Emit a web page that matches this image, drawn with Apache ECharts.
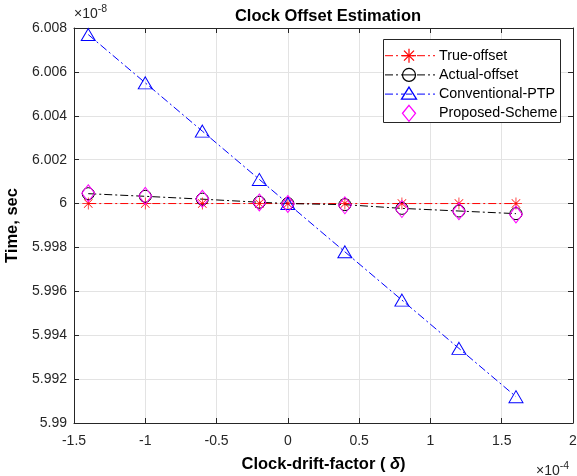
<!DOCTYPE html>
<html>
<head>
<meta charset="utf-8">
<script src="https://cdn.jsdelivr.net/npm/echarts@6/dist/echarts.min.js"></script>
<style>html,body{margin:0;padding:0;background:#fff}#c{width:577px;height:476px}</style>
</head>
<body>
<div id="c"></div>
<script>
var drift = [-1.4, -1, -0.6, -0.2, 0, 0.4, 0.8, 1.2, 1.6];
var trueOffset = [6, 6, 6, 6, 6, 6, 6, 6, 6];
var actualOffset = [6.00045, 6.00033, 6.0002, 6.00006, 6.0, 5.99995, 5.99978, 5.99966, 5.99954];
var conventionalPTP = [6.0077, 6.0055, 6.0033, 6.0011, 6.0, 5.9978, 5.9956, 5.9934, 5.9912];
var proposedScheme = [6.00047, 6.00035, 6.00022, 6.00005, 5.99998, 5.99992, 5.99975, 5.99965, 5.9995];
var seriesNames = ['True-offset', 'Actual-offset', 'Conventional-PTP', 'Proposed-Scheme'];

function pairs(ys){ return drift.map(function(x,i){ return [x, ys[i]]; }); }

var FONT = 'Liberation Sans, Arial, Helvetica, sans-serif';
var AX = '#262626';
var asterisk = 'path://M9.4,0L10.6,0L10.6,20L9.4,20Z M0,9.4L20,9.4L20,10.6L0,10.6Z M2.5,3.3L3.3,2.5L17.5,16.7L16.7,17.5Z M16.7,2.5L17.5,3.3L3.3,17.5L2.5,16.7Z';
var dashdot = [8, 3, 2, 3];
var colors = ['#ff0000', '#000000', '#0000ff', '#ff00ff'];

var chart = echarts.init(document.getElementById('c'), null, {renderer:'canvas'});
var baseX = {type:'value', min:-1.5, max:2, interval:0.5};
var baseY = {type:'value', min:5.99, max:6.008, interval:0.002};
function fmt(v){ return String(parseFloat(v.toFixed(4))); }

/* legend drawn as graphic elements (box, sample line, marker, label) */
var LG = {x:383, y:39, w:177, h:83, row0:55.7, step:19.2, lineX0:385, lineX1:435, cx:409, tx:439};
var legendEls = [{type:'rect', shape:{x:LG.x+0.5, y:LG.y+0.5, width:LG.w, height:LG.h},
  style:{fill:'#fff', stroke:AX, lineWidth:1}, z:100}];
function seg(x1, y1, x2, y2, c, w){
  return {type:'line', shape:{x1:x1, y1:y1, x2:x2, y2:y2}, style:{stroke:c, lineWidth:w}, z:102};
}
seriesNames.forEach(function(n, i){
  var cy = LG.row0 + LG.step*i;
  var c = colors[i];
  var cx = LG.cx;
  if (i < 3) legendEls.push({type:'line', shape:{x1:LG.lineX0, y1:cy, x2:LG.lineX1, y2:cy},
    style:{stroke:c, lineWidth:1, lineDash:dashdot}, z:101});
  if (i === 0) {
    legendEls.push(seg(cx, cy-7, cx, cy+7, c, 1.2));
    legendEls.push(seg(cx-7, cy, cx+7, cy, c, 1.2));
    legendEls.push(seg(cx-5, cy-5, cx+5, cy+5, c, 1.2));
    legendEls.push(seg(cx-5, cy+5, cx+5, cy-5, c, 1.2));
  } else if (i === 1) {
    legendEls.push({type:'circle', shape:{cx:cx, cy:cy, r:6.5}, style:{fill:'#fff', stroke:c, lineWidth:1.2}, z:102});
    legendEls.push(seg(cx-6.5, cy, cx+6.5, cy, c, 1));
  } else if (i === 2) {
    legendEls.push({type:'polygon', shape:{points:[[cx, cy-7],[cx+7.5, cy+5],[cx-7.5, cy+5]]}, style:{fill:'#fff', stroke:c, lineWidth:1.3}, z:102});
    legendEls.push(seg(cx-3, cy, cx+3, cy, c, 1));
  } else {
    legendEls.push({type:'polygon', shape:{points:[[cx, cy-8],[cx+6.5, cy],[cx, cy+8],[cx-6.5, cy]]}, style:{fill:'#fff', stroke:c, lineWidth:1.3}, z:102});
  }
  legendEls.push({type:'text', x:LG.tx, y:cy, style:{text:n, fontFamily:FONT, fontSize:14.3, fill:'#000', verticalAlign:'middle', align:'left'}, z:103});
});

chart.setOption({
  animation:false,
  backgroundColor:'#fff',
  title:{text:'Clock Offset Estimation', left:323, top:3, textAlign:'center',
    textStyle:{fontFamily:FONT, fontSize:16.5, fontWeight:'bold', color:'#000'}},
  grid:{left:74, right:4, top:28, bottom:53, containLabel:false, outerBoundsMode:'none'},
  xAxis:[
    Object.assign({}, baseX, {position:'bottom',
      name:'{b|Clock-drift-factor ( }{i|δ}{b|)}', nameLocation:'middle', nameGap:33,
      nameTextStyle:{rich:{b:{fontFamily:FONT, fontSize:16.5, fontWeight:'bold', color:'#000'},
                           i:{fontFamily:FONT, fontSize:16.5, fontWeight:'bold', fontStyle:'italic', color:'#000'}}},
      axisLine:{onZero:false, lineStyle:{color:AX}},
      axisTick:{inside:true, length:5, lineStyle:{color:AX}},
      axisLabel:{fontFamily:FONT, fontSize:14, color:AX, margin:11, formatter:fmt},
      splitLine:{show:true, lineStyle:{color:'#e3e3e3'}}}),
    Object.assign({}, baseX, {position:'top',
      axisLine:{onZero:false, lineStyle:{color:AX}},
      axisTick:{inside:true, length:5, lineStyle:{color:AX}},
      axisLabel:{show:false}, splitLine:{show:false}})
  ],
  yAxis:[
    Object.assign({}, baseY, {position:'left',
      name:'Time, sec', nameLocation:'middle', nameGap:46, nameRotate:90,
      nameTextStyle:{fontFamily:FONT, fontSize:16.5, fontWeight:'bold', color:'#000'},
      axisLine:{onZero:false, lineStyle:{color:AX}},
      axisTick:{inside:true, length:5, lineStyle:{color:AX}},
      axisLabel:{fontFamily:FONT, fontSize:14, color:AX, margin:7, formatter:fmt},
      splitLine:{show:true, lineStyle:{color:'#e3e3e3'}}}),
    Object.assign({}, baseY, {position:'right',
      axisLine:{onZero:false, lineStyle:{color:AX}},
      axisTick:{inside:true, length:5, lineStyle:{color:AX}},
      axisLabel:{show:false}, splitLine:{show:false}})
  ],
  graphic:[
    {type:'text', left:74, top:4, style:{text:'{a|×10}{s|-8}', rich:{
      a:{fontFamily:FONT, fontSize:14, fill:AX}, s:{fontFamily:FONT, fontSize:10.5, fill:AX, verticalAlign:'top', padding:[0,0,9,0]}}}},
    {type:'text', left:536, top:461, style:{text:'{a|×10}{s|-4}', rich:{
      a:{fontFamily:FONT, fontSize:14, fill:AX}, s:{fontFamily:FONT, fontSize:10.5, fill:AX, verticalAlign:'top', padding:[0,0,9,0]}}}}
  ].concat(legendEls),
  series:[
    {name:seriesNames[0], type:'line', data:pairs(trueOffset), symbol:asterisk, symbolSize:12,
      itemStyle:{color:colors[0], borderWidth:0},
      lineStyle:{color:colors[0], width:1, type:dashdot}},
    {name:seriesNames[1], type:'line', data:pairs(actualOffset), symbol:'circle', symbolSize:12,
      itemStyle:{color:'rgba(0,0,0,0)', borderColor:colors[1], borderWidth:1},
      lineStyle:{color:colors[1], width:1, type:dashdot}},
    {name:seriesNames[2], type:'line', data:pairs(conventionalPTP), symbol:'triangle', symbolSize:[14,12],
      itemStyle:{color:'rgba(0,0,0,0)', borderColor:colors[2], borderWidth:1},
      lineStyle:{color:colors[2], width:1, type:dashdot}},
    {name:seriesNames[3], type:'line', data:pairs(proposedScheme), symbol:'diamond', symbolSize:[13,17],
      itemStyle:{color:'rgba(0,0,0,0)', borderColor:colors[3], borderWidth:1},
      lineStyle:{color:colors[3], width:0, opacity:0}}
  ]
});
</script>
</body>
</html>
